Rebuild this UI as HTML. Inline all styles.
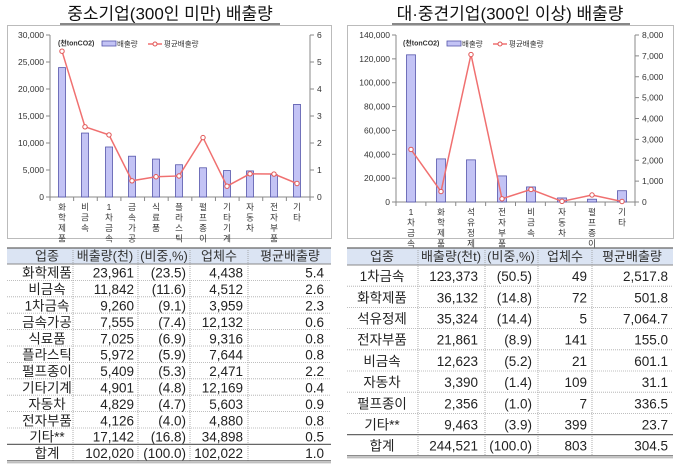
<!DOCTYPE html>
<html><head><meta charset="utf-8"><style>
body{margin:0;background:#fff}
svg{display:block;font-family:"Liberation Sans","Noto Sans CJK KR",sans-serif}
</style></head><body>
<svg id="s" width="680" height="466" xmlns="http://www.w3.org/2000/svg"></svg>
<script>
const s=document.getElementById('s');let h='';
function t(x,y,str,o={}){h+=`<text x="${x}" y="${y}" font-size="${o.fs||13}" fill="${o.c||'#222'}" text-anchor="${o.a||'start'}" ${o.w?'font-weight="bold"':''} dominant-baseline="central">${str}</text>`;}
function l(x1,y1,x2,y2,c,w,d){h+=`<line x1="${x1}" y1="${y1}" x2="${x2}" y2="${y2}" stroke="${c}" stroke-width="${w||1}" ${d?`stroke-dasharray="${d}"`:''}/>`;}
t(170,14,'중소기업(300인 미만) 배출량',{fs:17,a:'middle',c:'#111'});l(60,24,280,24,'#111',1);
t(510,14,'대·중견기업(300인 이상) 배출량',{fs:17,a:'middle',c:'#111'});l(392,24,630,24,'#111',1);
h+=`<rect x="7.5" y="25.5" width="324" height="213" fill="none" stroke="#bbb"/>`;
h+=`<rect x="347.5" y="25.5" width="326" height="213" fill="none" stroke="#bbb"/>`;
function chart(o){
 const {L,R,T,B}=o;
 l(L,T,L,B,'#888');l(R,T,R,B,'#888');l(L,B,R,B,'#888');
 for(let i=0;i<=o.n;i++){const y=B-(B-T)*i/o.n;l(L-4,y,L,y,'#888');t(L-6,y,o.ly(i),{fs:8.5,a:'end',c:'#333'});}
 for(let i=0;i<=o.rn;i++){const y=B-(B-T)*i/o.rn;l(R,y,R+4,y,'#888');t(R+7,y,o.ry(i),{fs:8.5,c:'#333'});}
 const n=o.cats.length,w=(R-L)/n;
 for(let i=0;i<=n;i++)l(L+w*i,B,L+w*i,B+4,'#888');
 let pts=[];
 o.cats.forEach((c,i)=>{const cx=o.cx[i];const bh=(B-T)*o.bars[i]/o.lmax;
  h+=`<rect x="${cx-o.bw/2}" y="${B-bh}" width="${o.bw}" height="${bh}" fill="#c3c3f5" stroke="#5555aa" stroke-width="0.8"/>`;
  pts.push([cx,B-(B-T)*o.line[i]/o.rmax]);
  [...c].forEach((ch,j)=>t(cx,B+10+j*10.5,ch,{fs:8.5,a:'middle',c:'#333'}));});
 h+=`<polyline points="${pts.map(p=>p.join(',')).join(' ')}" fill="none" stroke="#f07070" stroke-width="1.5"/>`;
 pts.forEach(p=>h+=`<circle cx="${p[0]}" cy="${p[1]}" r="2.2" fill="#fff" stroke="#e05555" stroke-width="1"/>`);
 const lx=o.lx;t(lx,44,'(천tonCO2)',{fs:7,w:1,c:'#333'});
 h+=`<rect x="${lx+44}" y="41" width="14" height="5" fill="#c3c3f5" stroke="#5555aa" stroke-width="0.8"/>`;t(lx+59,44,'배출량',{fs:7.5,c:'#333'});
 l(lx+90,44,lx+104,44,'#f07070',1.5);h+=`<circle cx="${lx+97}" cy="44" r="2" fill="#fff" stroke="#e05555"/>`;t(lx+106,44,'평균배출량',{fs:7.5,c:'#333'});
}
chart({L:50,R:310,T:35,B:197,n:6,rn:6,lmax:30000,rmax:6,ly:i=>i?(i*5000).toLocaleString('en'):'0',ry:i=>i,
 cats:['화학제품','비금속','1차금속','금속가공','식료품','플라스틱','펄프종이','기타기계','자동차','전자부품','기타'],
 cx:[62,85,109,132,156,179,203,227,250,274,297],bw:7,
 bars:[23961,11842,9260,7555,7025,5972,5409,4901,4829,4126,17142],line:[5.4,2.6,2.3,0.6,0.75,0.78,2.2,0.4,0.86,0.85,0.5],lx:58});
chart({L:396,R:635,T:35,B:202,n:7,rn:8,lmax:140000,rmax:8000,ly:i=>i?(i*20000).toLocaleString('en'):'0',ry:i=>i?(i*1000).toLocaleString('en'):'0',
 cats:['1차금속','화학제품','석유정제','전자부품','비금속','자동차','펄프종이','기타'],
 cx:[411,441,471,502,531,562,592,622],bw:9,
 bars:[123373,36132,35324,21861,12623,3390,2356,9463],line:[2517.8,501.8,7064.7,155,601.1,31.1,336.5,23.7],lx:403});
function table(o){
 const {x0,x1,top,hh,pitch,rows,cols}=o;
 h+=`<rect x="${x0}" y="${top}" width="${x1-x0}" height="${hh}" fill="#dbe4f3"/>`;
 l(x0,top,x1,top,'#666',1.2);l(x0,top+hh,x1,top+hh,'#888',1);
 cols.forEach((c,i)=>{if(i>0)l(c.x,top,c.x,top+hh+pitch*rows.length,'#999',0.8,'1,1');t(c.hc,top+hh/2,c.h,{fs:13,a:'middle',c:'#333'});});
 rows.forEach((r,i)=>{const y=top+hh+pitch*i,cy=y+pitch/2+1;
  if(i>0)l(x0,y,x1,y,'#aaa',0.8,i==rows.length-1?'':'1,1');
  if(i==rows.length-1){l(x0,y,x1,y,'#666',1.2);}
  r.forEach((v,j)=>{const c=cols[j];if(j==0)t(c.hc,cy,v,{fs:13.5,a:'middle',c:'#222'});else t(c.r,cy,v,{fs:13.5,a:'end',c:'#222'});});});
 const yb=top+hh+pitch*rows.length;l(x0,yb,x1,yb,'#666',1.2);l(x0,yb+2,x1,yb+2,'#999',0.8);
}
table({x0:7,x1:331,top:248,hh:16,pitch:16.4,
 cols:[{h:'업종',hc:47},{h:'배출량(천)',hc:105,x:73,r:134},{h:'(비중,%)',hc:164,x:138,r:186},{h:'업체수',hc:219,x:190,r:243},{h:'평균배출량',hc:290,x:248,r:324}],
 rows:[['화학제품','23,961','(23.5)','4,438','5.4'],['비금속','11,842','(11.6)','4,512','2.6'],['1차금속','9,260','(9.1)','3,959','2.3'],['금속가공','7,555','(7.4)','12,132','0.6'],['식료품','7,025','(6.9)','9,316','0.8'],['플라스틱','5,972','(5.9)','7,644','0.8'],['펄프종이','5,409','(5.3)','2,471','2.2'],['기타기계','4,901','(4.8)','12,169','0.4'],['자동차','4,829','(4.7)','5,603','0.9'],['전자부품','4,126','(4.0)','4,880','0.8'],['기타**','17,142','(16.8)','34,898','0.5'],['합계','102,020','(100.0)','102,022','1.0']]});
table({x0:347,x1:673,top:248,hh:17,pitch:21.2,
 cols:[{h:'업종',hc:382},{h:'배출량(천t)',hc:451,x:418,r:478},{h:'(비중,%)',hc:511,x:485,r:532},{h:'업체수',hc:565,x:538,r:587},{h:'평균배출량',hc:632,x:592,r:668}],
 rows:[['1차금속','123,373','(50.5)','49','2,517.8'],['화학제품','36,132','(14.8)','72','501.8'],['석유정제','35,324','(14.4)','5','7,064.7'],['전자부품','21,861','(8.9)','141','155.0'],['비금속','12,623','(5.2)','21','601.1'],['자동차','3,390','(1.4)','109','31.1'],['펄프종이','2,356','(1.0)','7','336.5'],['기타**','9,463','(3.9)','399','23.7'],['합계','244,521','(100.0)','803','304.5']]});
s.innerHTML=h;
</script>
</body></html>
